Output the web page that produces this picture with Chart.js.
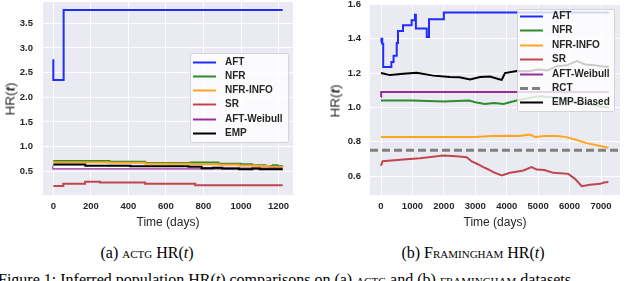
<!DOCTYPE html>
<html>
<head>
<meta charset="utf-8">
<script src="https://cdn.jsdelivr.net/npm/chart.js@4.4.1/dist/chart.umd.min.js"></script>
<style>
  body { margin: 0; width: 640px; height: 281px; overflow: hidden; background: #fff; position: relative; font-family: "Liberation Sans", Arial, sans-serif; }
  canvas { position: absolute; top: 0; }
  #actg { left: 0; }
  #fram { left: 320px; }
  .ylab { position: absolute; font-size: 13.5px; color: #262626; transform: translate(-50%, -50%) rotate(-90deg); white-space: nowrap; }
  .cap { position: absolute; font-family: "Liberation Serif", "Times New Roman", serif; font-size: 16px; color: #000; white-space: nowrap; }
  .mid { transform: translate(-50%, -50%); }
  .sc { font-variant: small-caps; }
</style>
</head>
<body>
<canvas id="actg" width="320" height="232"></canvas>
<canvas id="fram" width="320" height="232"></canvas>
<div class="ylab" style="left:10px; top:99px;">HR(<b><i>t</i></b>)</div>
<div class="ylab" style="left:335px; top:101px;">HR(<b><i>t</i></b>)</div>
<div class="cap mid" style="left:147px; top:253px;">(a) <span class="sc">actg</span> HR(<i>t</i>)</div>
<div class="cap mid" style="left:473px; top:253px;">(b) <span class="sc">Framingham</span> HR(<i>t</i>)</div>
<div class="cap" style="left:-2px; top:271px;">Figure 1: Inferred population HR(<i>t</i>) comparisons on (a) <span class="sc">actg</span> and (b) <span class="sc">framingham</span> datasets</div>

<script>
// ---- (a) ACTG : [day, HR] step points ----
const actgAFT = [[0, 2.77], [0, 2.35], [55, 3.77], [1222, 3.77]];
const actgNFR = [[0, 0.71], [300, 0.695], [490, 0.67], [730, 0.68], [880, 0.655], [1000, 0.645], [1060, 0.625], [1130, 0.61], [1170, 0.625], [1195, 0.605], [1222, 0.605]];
const actgNFRInfo = [[0, 0.685], [300, 0.675], [490, 0.655], [730, 0.645], [880, 0.635], [990, 0.62], [1080, 0.605], [1150, 0.59], [1222, 0.585]];
const actgSR = [[0, 0.2], [53, 0.25], [169, 0.29], [249, 0.275], [489, 0.25], [756, 0.22], [1222, 0.22]];
const actgWeibull = [[0, 0.615], [0, 0.555], [1222, 0.555]];
const actgWhite = [[0, 0.585], [790, 0.585]];
const actgEMP = [[0, 0.64], [170, 0.615], [410, 0.6], [720, 0.59], [790, 0.56], [850, 0.57], [900, 0.555], [990, 0.54], [1060, 0.555], [1100, 0.54], [1222, 0.54]];
const actgXTicks = [0, 200, 400, 600, 800, 1000, 1200];
const actgYTicks = [0.5, 1.0, 1.5, 2.0, 2.5, 3.0, 3.5];

// ---- (b) FRAMINGHAM : [day, HR] ----
const framAFT = [[0, 1.38], [15, 1.40], [40, 1.37], [70, 1.235], [290, 1.235], [330, 1.265], [400, 1.30], [500, 1.375], [540, 1.445], [700, 1.478], [975, 1.507], [1080, 1.54], [1110, 1.46], [1455, 1.41], [1527, 1.513], [2000, 1.552], [7250, 1.552]];
const framNFR = [[0, 1.04], [1000, 1.04], [2000, 1.035], [2800, 1.04], [3000, 1.03], [3300, 1.02], [3600, 1.025], [3900, 1.02], [4100, 1.03], [4320, 1.04], [4700, 1.055], [5000, 1.065], [5400, 1.06], [5800, 1.045], [6200, 1.03], [6600, 1.02], [7000, 1.005], [7250, 1.0]];
const framNFRInfo = [[0, 0.827], [1000, 0.827], [2000, 0.827], [3000, 0.828], [3500, 0.834], [4000, 0.835], [4400, 0.834], [4740, 0.842], [4900, 0.828], [5200, 0.833], [5600, 0.834], [5900, 0.827], [6200, 0.812], [6544, 0.792], [6900, 0.778], [7234, 0.765]];
const framSR = [[0, 0.66], [50, 0.687], [710, 0.697], [1240, 0.704], [1983, 0.72], [2400, 0.716], [2726, 0.71], [2885, 0.685], [3050, 0.672], [3256, 0.652], [3400, 0.64], [3574, 0.623], [3840, 0.604], [4104, 0.619], [4300, 0.625], [4528, 0.633], [4795, 0.652], [4955, 0.638], [5200, 0.635], [5482, 0.619], [5700, 0.617], [5960, 0.613], [6172, 0.584], [6386, 0.541], [6650, 0.549], [6968, 0.555], [7100, 0.563], [7234, 0.565]];
const framWeibull = [[0, 1.06], [5, 1.089], [7250, 1.089]];
const framRCT = [[-350, 0.75], [7604, 0.75]];
const framEMP = [[0, 1.2], [286, 1.188], [710, 1.196], [1135, 1.202], [1665, 1.185], [2195, 1.177], [2500, 1.175], [2832, 1.163], [3150, 1.177], [3468, 1.18], [3733, 1.165], [3840, 1.16], [3945, 1.2], [4317, 1.212], [4700, 1.21], [5000, 1.22], [5300, 1.215], [5600, 1.24], [5900, 1.245], [6236, 1.27], [6500, 1.25], [6800, 1.245], [7000, 1.24], [7250, 1.235]];
const framXTicks = [0, 1000, 2000, 3000, 4000, 5000, 6000, 7000];
const framYTicks = [0.6, 0.8, 1.0, 1.2, 1.4, 1.6];

const FONT = '"Liberation Sans", Arial, sans-serif';
const INK = '#262626';

const toPts = arr => arr.map(([x, y]) => ({ x, y }));

function series(label, data, color, extra) {
  return Object.assign({
    label, data: toPts(data), borderColor: color, borderWidth: 2,
    pointRadius: 0, fill: false, tension: 0
  }, extra || {});
}

// seaborn darkgrid background
const bgPlugin = {
  id: 'bg',
  beforeDraw(chart) {
    const a = chart.chartArea, ctx = chart.ctx;
    ctx.save();
    ctx.fillStyle = '#EAEAF2';
    ctx.fillRect(a.left, a.top, a.right - a.left, a.bottom - a.top);
    ctx.restore();
  }
};

// legend box drawn inside the plot, matplotlib style
const boxLegend = {
  id: 'boxLegend',
  afterDraw(chart, args, o) {
    const ctx = chart.ctx;
    ctx.save();
    ctx.beginPath();
    ctx.roundRect(o.x + 0.5, o.y + 0.5, o.w, o.h, 2);
    ctx.fillStyle = 'rgba(255,255,255,0.8)';
    ctx.fill();
    ctx.strokeStyle = 'rgba(204,204,204,0.8)';
    ctx.lineWidth = 1;
    ctx.stroke();
    ctx.font = 'bold 10px ' + FONT;
    ctx.textBaseline = 'middle';
    ctx.fillStyle = INK;
    chart.data.datasets.filter(d => d.label).forEach((d, i) => {
      const y = Math.round(o.y + o.first + i * o.row) + 0.5;
      ctx.beginPath();
      ctx.setLineDash(d.borderDash || []);
      ctx.strokeStyle = d.borderColor;
      ctx.lineWidth = d.borderWidth;
      ctx.moveTo(o.x + 3, y);
      ctx.lineTo(o.x + 26, y);
      ctx.stroke();
      ctx.fillText(d.label, o.x + 35, y);
    });
    ctx.restore();
  }
};

function panel(id, datasets, ax) {
  datasets.forEach((d, i) => { d.order = -i; });
  return new Chart(document.getElementById(id), {
    type: 'line',
    data: { datasets },
    options: {
      responsive: false,
      animation: false,
      events: [],
      layout: { padding: ax.pad },
      plugins: { legend: { display: false }, tooltip: { enabled: false }, boxLegend: ax.legend },
      scales: {
        x: {
          type: 'linear', min: ax.xmin, max: ax.xmax,
          border: { display: false },
          grid: { color: '#ffffff', lineWidth: 1, drawTicks: false },
          afterBuildTicks: s => { s.ticks = ax.xticks.map(v => ({ value: v })); },
          ticks: { padding: 6, maxRotation: 0, autoSkip: false,
                   color: INK, font: { family: FONT, size: 9.5, weight: 'bold' }, callback: v => String(v) },
          title: { display: true, text: 'Time (days)', color: INK, font: { family: FONT, size: 12 }, padding: { top: 0, bottom: 2 } },
          afterFit: s => { s.height = ax.xh; s.paddingLeft = 0; s.paddingRight = 0; }
        },
        y: {
          min: ax.ymin, max: ax.ymax,
          border: { display: false },
          grid: { color: '#ffffff', lineWidth: 1, drawTicks: false },
          afterBuildTicks: s => { s.ticks = ax.yticks.map(v => ({ value: v })); },
          ticks: { padding: ax.ypad, autoSkip: false,
                   color: INK, font: { family: FONT, size: 9.5, weight: 'bold' }, callback: v => v.toFixed(1) },
          afterFit: s => { s.width = ax.yw; s.paddingTop = 0; s.paddingBottom = 0; }
        }
      }
    },
    plugins: [bgPlugin, boxLegend]
  });
}

const BLUE = '#1f2dff', GREEN = '#2e8b2e', ORANGE = '#ffa51f', RED = '#c0464c', PURPLE = '#9a2c9a';

panel('actg', [
  series('AFT', actgAFT, BLUE, { stepped: true }),
  series('NFR', actgNFR, GREEN, { stepped: true }),
  series('NFR-INFO', actgNFRInfo, ORANGE, { stepped: true }),
  series('SR', actgSR, RED, { stepped: true }),
  series('AFT-Weibull', actgWeibull, PURPLE, { stepped: true }),
  series('', actgWhite, '#ffffff', { stepped: true, borderWidth: 2.5 }),
  series('EMP', actgEMP, '#000000', { stepped: true })
], {
  pad: { left: 0, top: 2, right: 27, bottom: 0 },
  xmin: -55, xmax: 1277, xticks: actgXTicks, xh: 37,
  ymin: 0.02, ymax: 3.93, yticks: actgYTicks, yw: 43, ypad: 10,
  legend: { x: 190, y: 53, w: 98, h: 89, first: 8.5, row: 14.3 }
});

panel('fram', [
  series('AFT', framAFT, BLUE, { stepped: true }),
  series('NFR', framNFR, GREEN),
  series('NFR-INFO', framNFRInfo, ORANGE),
  series('SR', framSR, RED),
  series('AFT-Weibull', framWeibull, PURPLE),
  series('RCT', framRCT, '#808080', { borderWidth: 3, borderDash: [8, 4] }),
  series('EMP-Biased', framEMP, '#000000')
], {
  pad: { left: 0, top: 4, right: 20, bottom: 0 },
  xmin: -350, xmax: 7604, xticks: framXTicks, xh: 37,
  ymin: 0.49, ymax: 1.602, yticks: framYTicks, yw: 50, ypad: 9,
  legend: { x: 197, y: 9, w: 97, h: 102, first: 7, row: 14.4 }
});
</script>
</body>
</html>
